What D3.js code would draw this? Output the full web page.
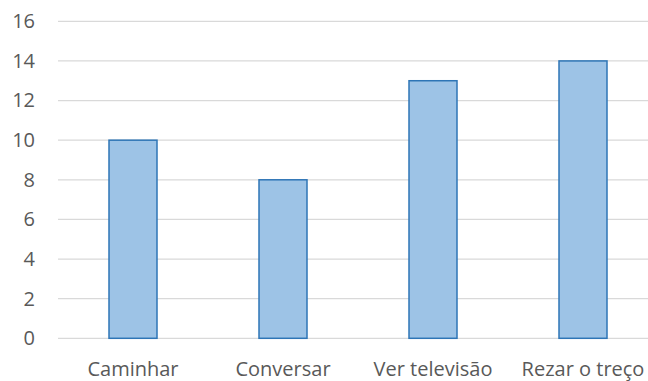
<!DOCTYPE html>
<html>
<head>
<meta charset="utf-8">
<script src="https://cdn.jsdelivr.net/npm/d3@7"></script>
<style>
  html, body { margin: 0; padding: 0; background: #fff; }
  svg { display: block; }
  text { font-family: "Open Sans", "Liberation Sans", sans-serif; fill: #595959; }
</style>
</head>
<body>
<svg id="chart" width="648" height="381"></svg>
<script>
// Activities and their counts
const categories = ["Caminhar", "Conversar", "Ver televisão", "Rezar o treço"];
const values = [10, 8, 13, 14];
const yTicks = [0, 2, 4, 6, 8, 10, 12, 14, 16];

const svg = d3.select("#chart");
const plotLeft = 58, plotRight = 658, plotTop = 21.3, plotBottom = 338.3;
const fontSize = 20;

const x = d3.scaleBand().domain(categories).range([plotLeft, plotRight]).paddingInner(0.68).paddingOuter(0.34);
const y = d3.scaleLinear().domain([0, 16]).range([plotBottom, plotTop]);

// Horizontal gridlines
svg.append("g")
  .selectAll("line")
  .data(yTicks)
  .join("line")
  .attr("x1", plotLeft).attr("x2", plotRight)
  .attr("y1", d => y(d)).attr("y2", d => y(d))
  .attr("stroke", "#d9d9d9").attr("stroke-width", 1.2);

// Y axis labels
const yAxis = svg.append("g")
  .attr("transform", `translate(${plotLeft - 8},0)`)
  .call(d3.axisLeft(y).tickValues(yTicks).tickSize(0).tickPadding(15));
yAxis.select(".domain").remove();
yAxis.attr("font-size", fontSize).attr("font-family", null);
yAxis.selectAll("text").attr("fill", "#595959");

// Bars
svg.append("g")
  .selectAll("rect")
  .data(values)
  .join("rect")
  .attr("x", (d, i) => x(categories[i]))
  .attr("y", d => y(d))
  .attr("width", x.bandwidth())
  .attr("height", d => y(0) - y(d))
  .attr("fill", "#9dc3e6")
  .attr("stroke", "#2e75b6")
  .attr("stroke-width", 1.5);

// Category labels
const xAxis = svg.append("g")
  .attr("transform", `translate(0,${plotBottom})`)
  .call(d3.axisBottom(x).tickSize(0).tickPadding(24));
xAxis.select(".domain").remove();
xAxis.attr("font-size", fontSize).attr("font-family", null);
xAxis.selectAll("text").attr("fill", "#595959");
</script>
</body>
</html>
